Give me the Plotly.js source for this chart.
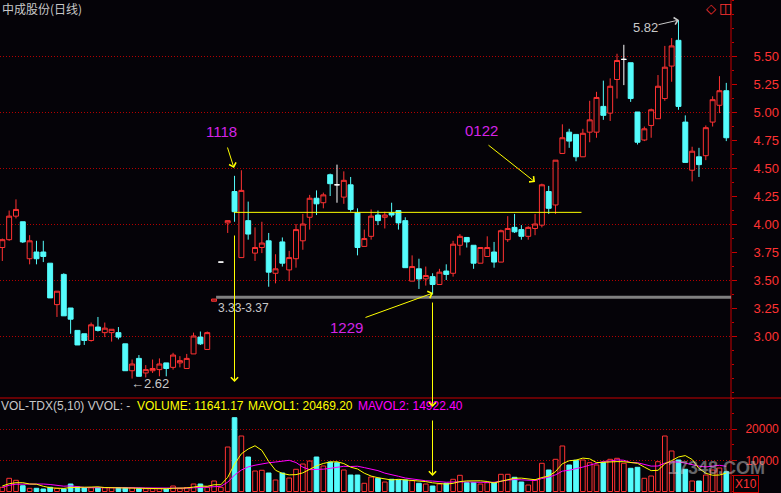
<!DOCTYPE html>
<html><head><meta charset="utf-8">
<script src="https://cdn.plot.ly/plotly-3.0.1.min.js"></script>
<style>html,body{margin:0;padding:0;background:#050308;overflow:hidden}#chart{width:781px;height:493px}</style>
</head><body><div id="chart"></div>
<script>
// ---- data (daily bars, oldest -> newest) ----
const openP  = [3.79,3.86,4.07,4.02,3.69,3.75,3.75,3.65,3.28,3.55,3.25,3.05,3.02,2.96,3.08,3.03,3.03,3.03,2.93,2.69,2.80,2.67,2.69,2.70,2.76,2.72,2.76,2.71,2.84,2.99,2.88,3.31,3.66,4.01,4.29,3.70,4.03,3.74,3.79,3.85,3.56,3.84,3.59,3.69,3.85,4.06,4.23,4.19,4.44,4.35,4.24,4.35,4.10,3.80,3.89,4.08,4.06,4.10,4.12,4.03,3.49,3.60,3.51,3.53,3.46,3.58,3.56,3.81,3.88,3.81,3.65,3.71,3.75,3.66,3.86,3.97,3.95,3.89,3.96,3.99,4.29,4.17,4.63,4.82,4.80,4.60,4.82,4.82,5.05,4.99,5.29,5.47,5.44,5.00,4.75,4.88,4.94,5.12,5.41,5.64,4.91,4.48,4.60,4.61,4.91,5.06,5.19];
const highP  = [3.87,4.12,4.22,4.02,3.90,3.85,3.85,3.65,3.40,3.56,3.25,3.05,3.02,3.12,3.17,3.12,3.06,3.08,2.93,2.79,2.83,2.74,2.79,2.80,2.76,2.85,2.82,2.84,3.03,3.04,3.04,3.33,3.66,4.03,4.43,4.48,4.20,3.97,4.02,3.92,3.73,3.88,3.76,4.00,4.09,4.26,4.30,4.28,4.45,4.53,4.47,4.42,4.14,3.95,4.13,4.12,4.11,4.19,4.12,4.06,3.72,3.69,3.62,3.56,3.60,3.64,3.85,3.91,3.88,3.81,3.79,3.89,3.84,3.95,4.07,4.09,3.99,3.98,4.09,4.36,4.34,4.57,4.89,4.85,4.80,4.85,5.10,5.18,5.28,5.30,5.52,5.60,5.44,5.00,4.87,5.03,5.33,5.59,5.66,5.82,4.97,4.69,4.68,4.88,5.14,5.32,5.26];
const lowP   = [3.67,3.85,4.05,3.83,3.64,3.64,3.66,3.34,3.17,3.18,3.02,2.92,2.92,2.95,3.04,2.99,2.95,2.97,2.69,2.62,2.64,2.63,2.67,2.64,2.64,2.70,2.72,2.71,2.84,2.92,2.88,3.31,3.66,3.92,4.02,3.70,3.86,3.67,3.74,3.44,3.47,3.62,3.49,3.61,3.77,3.95,4.08,4.14,4.25,4.19,4.18,4.11,3.72,3.80,3.86,3.99,3.96,4.06,3.95,3.61,3.49,3.42,3.45,3.37,3.46,3.50,3.53,3.72,3.79,3.60,3.65,3.71,3.61,3.66,3.84,3.92,3.86,3.86,3.90,3.97,4.09,4.09,4.63,4.68,4.56,4.60,4.73,4.77,4.93,4.92,5.12,5.24,5.09,4.71,4.74,4.77,4.94,5.10,5.27,5.02,4.55,4.38,4.42,4.57,4.87,4.99,4.74];
const closeP = [3.86,4.07,4.13,3.84,3.85,3.69,3.71,3.34,3.40,3.18,3.15,2.92,2.96,3.10,3.05,3.07,3.06,2.99,2.69,2.75,2.64,2.70,2.71,2.75,2.71,2.83,2.78,2.80,3.00,2.93,3.03,3.33,3.66,4.03,4.11,4.30,3.91,3.79,3.83,3.57,3.60,3.65,3.70,3.95,4.00,4.23,4.18,4.26,4.36,4.35,4.39,4.13,3.79,3.87,4.07,4.03,4.08,4.08,4.01,3.61,3.62,3.51,3.54,3.46,3.57,3.55,3.82,3.89,3.84,3.65,3.79,3.79,3.66,3.94,3.96,3.93,3.89,3.97,4.00,4.35,4.14,4.57,4.77,4.74,4.60,4.81,4.93,5.13,4.97,5.23,5.46,5.47,5.12,4.73,4.85,5.02,5.23,5.40,5.59,5.05,4.55,4.65,4.53,4.86,5.11,5.19,4.77];
const volume = [1350,4240,3600,1860,1030,1030,800,1350,1030,800,2410,1450,1220,1220,1220,1220,1220,1220,1220,1220,900,900,900,900,800,1770,900,1290,2410,2410,1350,3380,1350,14300,23730,17840,11090,6590,6820,5950,3700,5950,4340,7140,8840,9800,11090,8200,9480,9260,6910,5300,5300,2640,4660,4240,3050,3920,3700,3700,3470,2640,2410,1770,2410,2640,3920,5210,2830,2830,2410,2830,2830,5530,5530,4570,3050,2090,3700,9070,6910,10350,14630,8520,10030,10130,9260,8520,9260,10350,10670,9070,7460,7780,4240,4980,9580,17840,13020,10130,7140,3380,3380,5300,6910,7560,6370];
const mavol1 = [1770,2500,2830,2830,2416,2352,1664,1214,1048,1002,1278,1408,1382,1420,1504,1266,1220,1220,1220,1220,1156,1092,1028,964,880,1054,1054,1132,1434,1756,1672,2168,2180,4558,8822,12120,13662,14710,13214,9658,6830,5802,5352,5416,5994,7214,8242,9014,9482,9566,8988,7830,7250,5882,4962,4428,3978,3702,3914,3722,3568,3486,3184,2798,2540,2374,2630,3190,3402,3486,3440,3222,2746,3286,3826,4258,4302,4154,3788,4496,4964,6424,8932,9896,10088,10732,10514,9292,9440,9504,9612,9574,9362,9066,7844,6706,6808,8884,9932,11110,11542,10302,7410,5866,5222,5306,5904];
const mavol2 = [1350,2000,2350,2410,2410,2410,2410,2250,2090,1709,1815,1536,1298,1234,1253,1272,1314,1301,1320,1362,1211,1156,1124,1092,1050,1105,1073,1080,1199,1318,1363,1611,1656,2996,5289,6896,7915,8445,8886,9240,9475,9732,10031,9315,7826,7022,7022,7183,7449,7780,8101,8036,8132,7682,7264,6708,5904,5476,4898,4342,3998,3732,3443,3356,3131,2971,3058,3187,3100,3013,2907,2926,2968,3344,3656,3849,3762,3450,3537,4161,4611,5363,6543,6842,7292,7848,8469,9112,9668,9796,10172,10044,9327,9253,8674,8159,8191,9123,9499,9477,9124,8555,8147,7899,8166,8424,8103];
const priceTicks = [3.00,3.25,3.50,3.75,4.00,4.25,4.50,4.75,5.00,5.25,5.50];
const priceGrid  = [3.0,3.5,4.0,4.5,5.0,5.5];
const volumeTicks = [10000,20000];
const levels = {breakout: 4.104, support: 3.345};

// ---- styling ----
const BG = '#050308', RED = '#ff3232', CYAN = '#54fcfc', AXIS = '#c80000', GRID = '#b40000';
const W = 781, H = 493;
const px = x => x / W, py = y => 1 - y / H;
const XDOM = [0, 731 / W];
const SPLIT = 1 - 398 / H;
const idx = openP.map((_, i) => i);

// direction of each bar (flat bodies compare with previous close)
const up = idx.map(i => closeP[i] > openP[i] || (closeP[i] === openP[i] && i > 0 && closeP[i] >= closeP[i - 1]));
const flat = idx.map(i => closeP[i] === openP[i]);
const pick = (arr, cond) => idx.map(i => cond(i) ? arr[i] : null);

const main = {
  type: 'candlestick', x: idx,
  open: pick(openP, i => !flat[i]), high: pick(highP, i => !flat[i]),
  low: pick(lowP, i => !flat[i]), close: pick(closeP, i => !flat[i]),
  increasing: {line: {color: RED, width: 1}, fillcolor: BG},
  decreasing: {line: {color: CYAN, width: 1}, fillcolor: CYAN},
  whiskerwidth: 0, xaxis: 'x', yaxis: 'y', hoverinfo: 'skip'
};
const flats = {
  type: 'candlestick', x: idx,
  open: pick(openP, i => flat[i]), high: pick(highP, i => flat[i]),
  low: pick(lowP, i => flat[i]), close: pick(closeP, i => flat[i]),
  increasing: {line: {color: '#ffffff', width: 1}, fillcolor: '#ffffff'},
  decreasing: {line: {color: '#ffffff', width: 1}, fillcolor: '#ffffff'},
  whiskerwidth: 0, xaxis: 'x', yaxis: 'y', hoverinfo: 'skip'
};
const gridDummy = {type: 'scatter', x: [], y: [], xaxis: 'x', yaxis: 'y3', hoverinfo: 'skip'};
const bars = {
  type: 'bar', x: idx, y: volume, width: 0.68, xaxis: 'x2', yaxis: 'y2',
  marker: {color: up.map(u => u ? BG : CYAN), line: {color: up.map(u => u ? RED : CYAN), width: 1}},
  hoverinfo: 'skip'
};
const ma2 = {type: 'scatter', mode: 'lines', x: idx, y: mavol2, xaxis: 'x2', yaxis: 'y2',
  line: {color: '#ff00ff', width: 1}, hoverinfo: 'skip'};
const ma1 = {type: 'scatter', mode: 'lines', x: idx, y: mavol1, xaxis: 'x2', yaxis: 'y2',
  line: {color: '#ffff00', width: 1}, hoverinfo: 'skip'};

const xr = [-0.34, 106.69];
const FONT = 'Liberation Sans, Arial, sans-serif';

function label(text, x, y, color, size, extra) {
  return Object.assign({xref: 'paper', yref: 'paper', x: px(x), y: py(y), text: text, showarrow: false,
    xanchor: 'left', yanchor: 'middle', font: {family: FONT, size: size, color: color}}, extra || {});
}
function arrow(x0, y0, x1, y1, color, head) {
  return {xref: 'paper', yref: 'paper', x: px(x1), y: py(y1), ax: x0 - x1, ay: y0 - y1,
    axref: 'pixel', ayref: 'pixel', text: '', showarrow: true, arrowhead: head === undefined ? 4 : head,
    arrowsize: 1.4, arrowwidth: 1, arrowcolor: color, standoff: 0, startstandoff: 0};
}

const YEL = '#ffff00', MAG = '#d424e6', GRAY = '#c8c8c8';
const WM = 'rgba(200,200,200,0.5)';
const annotations = [
  label('中成股份(日线)', 0, 9, GRAY, 12, {font: {family: 'Noto Sans CJK SC', size: 12, color: GRAY}}),
  label('VOL-TDX(5,10) VVOL: -', -1, 406, GRAY, 12),
  label('VOLUME: 11641.17', 135, 406, YEL, 12),
  label('MAVOL1: 20469.20', 246, 406, YEL, 12),
  label('MAVOL2: 14922.40', 356, 406, '#ff00ff', 12),
  label('1118', 204, 131, MAG, 15),
  label('0122', 463, 130, MAG, 15),
  label('1229', 328, 327, MAG, 15),
  label('5.82', 631, 28, GRAY, 13),
  label('←2.62', 129, 383, GRAY, 13),
  label('3.33-3.37', 216, 308, GRAY, 12),
  label('◇', 704, 8, RED, 13, {font: {family: 'DejaVu Sans', size: 13, color: RED}}),
  label('◫', 717, 8, RED, 14, {font: {family: 'DejaVu Sans', size: 14, color: RED}}),
  label('X10', 733, 484, RED, 12, {bordercolor: AXIS, borderwidth: 1, borderpad: 1}),
  label('17348.COM', 666, 468, WM, 18, {font: {family: FONT, size: 18, color: WM, weight: 700}}),
  arrow(227, 146, 234, 168, YEL),
  arrow(234.5, 234, 234.5, 382, YEL),
  arrow(487, 144, 535, 182, YEL),
  arrow(364, 318, 433, 293, YEL),
  arrow(432.5, 301, 432.5, 407, YEL),
  arrow(432.5, 419, 432.5, 476, YEL),
  arrow(657, 25, 679, 20, GRAY)
];

const shapes = [
  {type: 'line', xref: 'paper', yref: 'paper', x0: 0, x1: 1, y0: py(398), y1: py(398), line: {color: AXIS, width: 1}},
  {type: 'line', xref: 'paper', yref: 'paper', x0: XDOM[1], x1: XDOM[1], y0: 0, y1: 1, line: {color: AXIS, width: 1}},
  {type: 'line', xref: 'x', yref: 'y', x0: 31.3, x1: xr[1], y0: levels.support, y1: levels.support, line: {color: '#808080', width: 3}},
  {type: 'line', xref: 'x', yref: 'y', x0: 33.9, x1: 84.8, y0: levels.breakout, y1: levels.breakout, line: {color: YEL, width: 1}}
];

const layout = {
  width: W, height: H, margin: {l: 0, r: 0, t: 0, b: 0, pad: 0},
  paper_bgcolor: BG, plot_bgcolor: BG, showlegend: false, hovermode: false, dragmode: false,
  boxgap: 0.15, boxgroupgap: 0.15, bargap: 0,
  xaxis: {domain: XDOM, range: xr, anchor: 'y', visible: false, rangeslider: {visible: false}, fixedrange: true},
  xaxis2: {domain: XDOM, range: xr, anchor: 'y2', visible: false, fixedrange: true},
  yaxis: {domain: [SPLIT, 1], range: [6 - 398 / 112, 6.0], side: 'right', anchor: 'x',
    tickmode: 'array', tickvals: priceTicks, ticktext: priceTicks.map(v => v.toFixed(2)),
    ticks: 'outside', ticklen: 5, tickwidth: 1, tickcolor: AXIS, tickfont: {family: FONT, size: 13, color: RED}, ticklabelstandoff: 14,
    showgrid: false, zeroline: false, showline: false, fixedrange: true,
    minor: {tickmode: 'linear', tick0: 0, dtick: 0.125, ticks: 'outside', ticklen: 2, tickcolor: AXIS, showgrid: false}},
  yaxis3: {overlaying: 'y', side: 'right', anchor: 'x', range: [6 - 398 / 112, 6.0],
    tickmode: 'array', tickvals: priceGrid, showticklabels: false, ticks: '',
    showgrid: true, gridcolor: GRID, gridwidth: 1, griddash: '1px,2px', zeroline: false, showline: false, fixedrange: true},
  yaxis2: {domain: [0, SPLIT], range: [-482, 30060], side: 'right', anchor: 'x2',
    tickmode: 'array', tickvals: volumeTicks, ticktext: volumeTicks.map(String),
    ticks: 'outside', ticklen: 5, tickwidth: 1, tickcolor: AXIS, tickfont: {family: FONT, size: 12, color: RED}, ticklabelstandoff: 6,
    showgrid: true, gridcolor: GRID, gridwidth: 1, griddash: '1px,2px', zeroline: false, showline: false, fixedrange: true,
    minor: {tickmode: 'linear', tick0: 0, dtick: 5000, ticks: 'outside', ticklen: 2, tickcolor: AXIS, showgrid: false}},
  shapes: shapes,
  annotations: annotations
};

Plotly.newPlot('chart', [gridDummy, bars, ma2, ma1, main, flats], layout, {staticPlot: true, displayModeBar: false});
</script></body></html>
